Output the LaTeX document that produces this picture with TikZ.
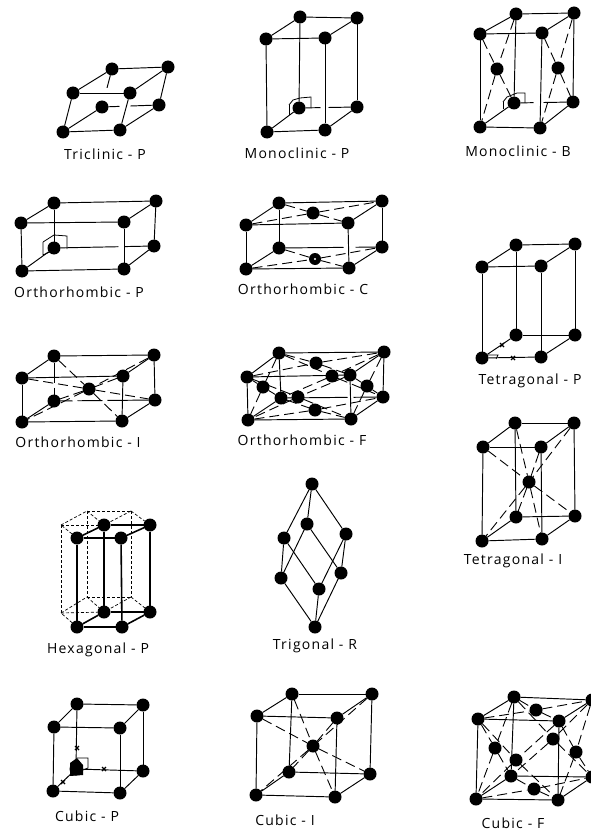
\documentclass[tikz,border=0pt]{standalone}
\usepackage{fontspec}
\setmainfont[LetterSpace=9]{Open Sans}
\tikzset{
  x=1pt,y=-1pt,
  atom/.style={circle,fill=black,inner sep=0pt,outer sep=0pt,minimum size=13pt},
  edge/.style={line width=.95pt,black},
  thickedge/.style={line width=1.6pt,black},
  dline/.style={line width=.9pt,black,dash pattern=on 10pt off 5pt},
  fine/.style={line width=.7pt,black,dash pattern=on 3pt off 2pt},
  anglemark/.style={line width=.8pt,black,line join=miter},
  tickmark/.style={line width=1.1pt,black},
  lab/.style={font=\fontsize{14}{16}\selectfont,inner sep=0pt,text=black}
}
\newcommand{\Atoms}[2]{\foreach \n/\x/\y in {#2} \node[atom] (#1\n) at (\x,\y) {};}
\newcommand{\Lines}[3][edge]{\foreach \a/\b in {#3} \draw[#1] (#2\a) -- (#2\b);}
\newcommand{\Cuboid}[1]{\Lines{#1}{1/2,2/6,6/5,5/1,1/3,3/4,4/2,5/7,6/8,4/8}}
\newcommand{\Tick}[3]{\coordinate (#1) at (#2,#3);
  \draw[tickmark] ([shift={(-2,-2)}]#1) -- ([shift={(2,2)}]#1);
  \draw[tickmark] ([shift={(-2,2)}]#1) -- ([shift={(2,-2)}]#1);}
\begin{document}
\begin{tikzpicture}
\useasboundingbox (0,0) rectangle (591,832);
% Triclinic-P
\Atoms{a}{1/73/93,2/130/93,3/112/69,4/168/67,5/63/132,6/120/130,7/102/107,8/159/105}
\Cuboid{a}
\draw[edge,dash pattern=on 13pt off 100pt] (a3) -- (a7);
\draw[edge,dash pattern=on 11pt off 11pt on 60pt] (a7) -- (a8);
\node[lab] (la) at (105,154) {Triclinic - P};
% Monoclinic-P
\Atoms{b}{1/266/39,2/325/38,3/300/17,4/357/18,5/267/132,6/325/130,7/299/108,8/357/107}
\Cuboid{b}
\draw[edge] (b3) -- (b7);
\draw[edge,dash pattern=on 15pt off 8pt on 60pt] (b7) -- (b8);
\draw[anglemark] (289,105) -- (293,100) -- (300,98) -- (311,97) -- (311,108);
\draw[anglemark] (289,105) -- (289,115);
\node[lab] (lb) at (297,153) {Monoclinic - P};
% Monoclinic-B
\Atoms{c}{1/480/34,2/542/33,3/516/14,4/574/13,5/480/127,6/540/128,7/514/103,8/573/102,9/497/69,10/558/68}
\Cuboid{c}
\draw[edge] (c3) -- (c7);
\draw[edge,dash pattern=on 13pt off 10pt on 60pt] (c7) -- (c8);
\Lines[dline]{c}{1/9,9/7,3/9,9/5,2/10,10/8,4/10,10/6}
\draw[anglemark] (503,102) -- (507,97) -- (517,93) -- (525,93) -- (525,103);
\draw[anglemark] (503,102) -- (503,109);
\node[lab] (lc) at (518,151) {Monoclinic - B};
% Orthorhombic-P
\Atoms{d}{1/21/223,2/124/222,3/54/203,4/156/201,5/22/271,6/124/269,7/54/248,8/154/246}
\Cuboid{d}
\draw[edge] (d3) -- (d7);
\draw[edge,dash pattern=on 58pt off 6pt on 60pt] (d7) -- (d8);
\draw[anglemark] (43,242) -- (54,235) -- (67,236) -- (67,249);
\draw[anglemark] (43,242) -- (43,255) -- (54,250);
\node[lab] (ld) at (79,292) {Orthorhombic - P};
% Orthorhombic-C
\Atoms{e}{1/246/225,2/348/223,3/279/203,4/382/201,5/246/269,6/349/268,7/279/248,8/382/247,9/313/213}
\node[atom,minimum size=12pt] (e10) at (315,259) {};
\fill[white] (e10) circle (1.2pt);
\Cuboid{e}
\draw[edge] (e3) -- (e7);
\draw[edge,dash pattern=on 58pt off 12pt on 60pt] (e7) -- (e8);
\Lines[dline]{e}{1/9,9/4,3/9,9/2,5/10,10/8,7/10,10/6}
\node[lab] (le) at (303,289) {Orthorhombic - C};
% Orthorhombic-I
\Atoms{f}{1/22/378,2/123/376,3/54/356,4/154/355,5/22/422,6/122/421,7/54/401,8/155/400,9/89/389}
\Cuboid{f}
\draw[edge,dash pattern=on 20pt off 5pt on 8pt] (f3) -- (f7);
\draw[edge,dash pattern=on 12pt off 5pt on 25pt off 5pt on 50pt] (f7) -- (f8);
\Lines[dline]{f}{1/9,9/8,3/9,9/6,2/9,9/7,4/9,9/5}
\node[lab] (lf) at (78,442) {Orthorhombic - I};
% Orthorhombic-F
\Atoms{g}{1/247/377,2/350/375,3/279/353,4/384/352,5/248/420,6/351/419,7/281/398,8/383/397,9/316/363,10/315/410,11/298/397,12/332/376,13/263/387,14/367/386}
\Cuboid{g}
\draw[edge] (g3) -- (g7);
\draw[edge,dash pattern=on 60pt off 6pt on 40pt] (g7) -- (g8);
\Lines[dline]{g}{1/9,9/4,3/9,9/2,5/10,10/8,7/10,10/6,1/11,11/6,2/11,11/5,3/12,12/8,4/12,12/7,1/13,13/7,3/13,13/5,2/14,14/8,4/14,14/6}
\node[lab] (lg) at (302,440) {Orthorhombic - F};
% Tetragonal-P
\Atoms{h}{1/482/267,2/541/266,3/516/245,4/575/244,5/482/358,6/541/357,7/516/335,8/575/335}
\Cuboid{h}
\Lines{h}{3/7,7/8}
\Tick{ha}{502}{345}
\Tick{hb}{513}{358}
\draw[anglemark] (488,355) -- (498,355) -- (496,359);
\node[lab] (lh) at (530,381) {Tetragonal - P};
% Tetragonal-I
\Atoms{i}{1/483/447,2/541/447,3/515/423,4/574/423,5/482/541,6/542/539,7/516/517,8/575/516,9/529/482}
\Cuboid{i}
\Lines{i}{3/7,7/8}
\Lines[dline]{i}{1/9,9/8,3/9,9/6,2/9,9/7,4/9,9/5}
\node[lab] (li) at (513,561) {Tetragonal - I};
% Hexagonal-P
\Atoms{j}{1/77/538,2/121/538,3/150/525,4/104/525,5/77/627,6/122/627,7/150/612,8/104/612}
\coordinate (j11) at (61,525); \coordinate (j12) at (87,511); \coordinate (j13) at (131,511);
\coordinate (j14) at (61,613); \coordinate (j15) at (87,597); \coordinate (j16) at (131,597);
\Lines[thickedge]{j}{1/2,2/3,3/4,4/1,5/6,6/7,7/8,8/5,1/5,2/6,3/7,4/8}
\Lines[fine]{j}{11/12,12/13,13/3,1/11,11/4,12/4,13/4,14/15,15/16,16/7,5/14,14/8,15/8,16/8,11/14,12/15,13/16}
\node[lab] (lj) at (98,650) {Hexagonal - P};
% Trigonal-R
\Atoms{k}{1/312/484,2/284/538,3/307/524,4/346/534,5/281/578,6/341/573,7/319/589,8/315/627}
\Lines{k}{1/2,1/3,1/4,2/5,2/7,3/5,3/6,4/7,4/6,5/8,7/8,6/8}
\node[lab] (lk) at (315,646) {Trigonal - R};
% Cubic-P
\Atoms{m}{1/54/727,2/120/728,3/77/704,4/143/705,5/53/791,6/120/793,7/76/769,8/143/771}
\Cuboid{m}
\Lines{m}{3/7,7/8}
\Tick{ma}{77}{748}
\Tick{mb}{104}{769}
\Tick{mc}{63}{782}
\fill (70,763) -- (77,758) -- (83,765) -- (83,775) -- (70,776) -- cycle;
\draw[anglemark] (77,758) -- (88,758) -- (88,768) -- (83,770);
\node[lab] (lm) at (87,816) {Cubic - P};
% Cubic-I
\Atoms{n}{1/257/716,2/337/718,3/292/694,4/372/694,5/256/795,6/335/797,7/289/772,8/370/774,9/313/746}
\Cuboid{n}
\Lines{n}{3/7,7/8}
\Lines[dline]{n}{1/9,9/8,3/9,9/6,2/9,9/7,4/9,9/5}
\node[lab] (ln) at (285,820) {Cubic - I};
% Cubic-F
\Atoms{o}{1/478/719,2/559/721,3/514/697,4/592/700,5/476/799,6/558/800,7/511/776,8/592/777,9/536/710,10/534/789,11/516/760,12/553/739,13/495/748,14/576/752}
\Cuboid{o}
\Lines{o}{3/7,7/8}
\Lines[dline]{o}{1/9,9/4,3/9,9/2,5/10,10/8,7/10,10/6,1/11,11/6,2/11,11/5,3/12,12/8,4/12,12/7,1/13,13/7,3/13,13/5,2/14,14/8,4/14,14/6}
\node[lab] (lo) at (513,823) {Cubic - F};
\end{tikzpicture}
\end{document}
